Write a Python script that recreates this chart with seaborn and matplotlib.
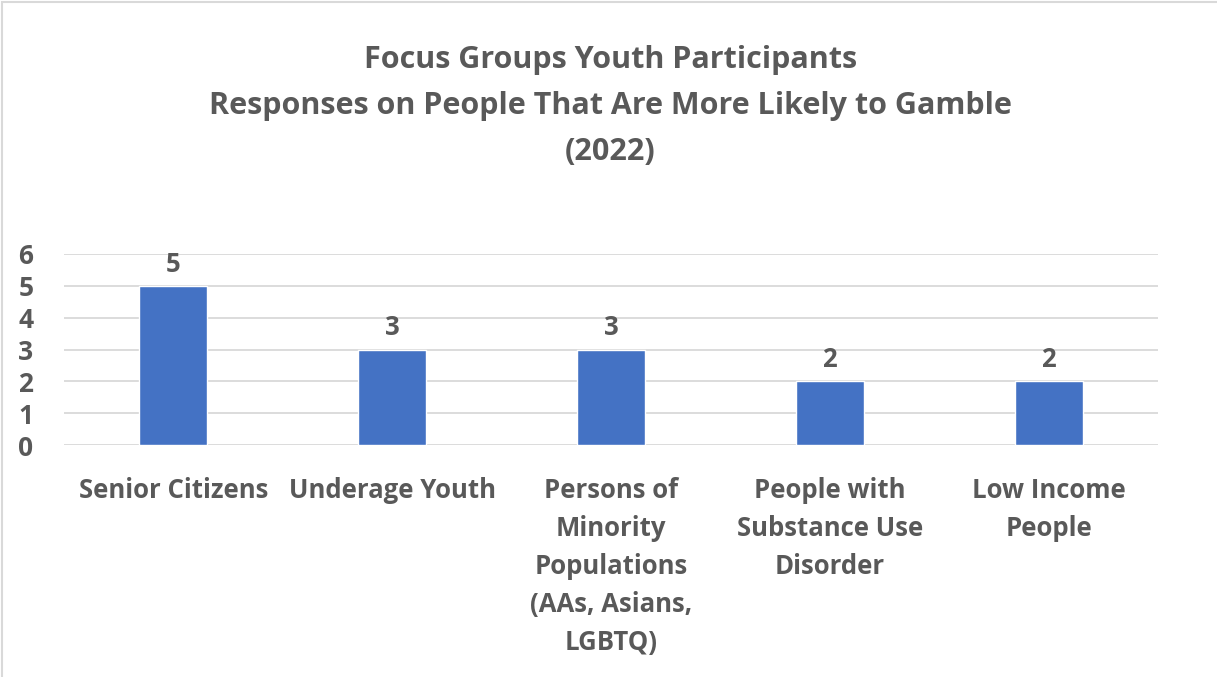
import matplotlib
matplotlib.use("Agg")
import matplotlib.pyplot as plt
import seaborn as sns
import pandas as pd
from matplotlib.patches import Rectangle

categories = [
    "Senior Citizens",
    "Underage Youth",
    "Persons of\nMinority\nPopulations\n(AAs, Asians,\nLGBTQ)",
    "People with\nSubstance Use\nDisorder",
    "Low Income\nPeople",
]
responses = [5, 3, 3, 2, 2]
y_ticks = [0, 1, 2, 3, 4, 5, 6]
title_lines = [
    "Focus Groups Youth Participants",
    "Responses on People That Are More Likely to Gamble",
    "(2022)",
]

TEXT = "#595959"
BAR = "#4472C4"
GRID = "#D9D9D9"

sns.set_theme(style="white")
plt.rcParams["font.family"] = ["Open Sans", "DejaVu Sans"]

W, H = 1217, 677
fig = plt.figure(figsize=(W / 100, H / 100), dpi=100)
ax = fig.add_axes([64 / W, 1 - 445 / H, (1158 - 64) / W, (445 - 254) / H])

df = pd.DataFrame({"category": categories, "responses": responses})
sns.barplot(data=df, x="category", y="responses", color=BAR, width=0.31,
            saturation=1, ax=ax, zorder=3)

ax.set_xlim(-0.5, len(categories) - 0.5)
ax.set_ylim(0, 6)
ax.set_yticks(y_ticks)
ax.set_yticklabels([str(t) for t in y_ticks], fontsize=19, fontweight="bold", color=TEXT)
ax.set_xticks(range(len(categories)))
ax.set_xticklabels(categories, fontsize=18.5, fontweight="bold", color=TEXT,
                   linespacing=1.53, va="top")
ax.tick_params(axis="x", length=0, pad=23)
ax.tick_params(axis="y", length=0, pad=22)
ax.set_xlabel("")
ax.set_ylabel("")

for y in y_ticks:
    ax.axhline(y, color=GRID, lw=1.3, zorder=1)
for s in ax.spines.values():
    s.set_visible(False)

for container in ax.containers:
    ax.bar_label(container, fmt="%d", padding=6, fontsize=18.5,
                 fontweight="bold", color=TEXT)

fig.text(0.5 * (1 + 4 / W), 1 - 106 / H, "\n".join(title_lines), ha="center", va="center",
         fontsize=22, fontweight="bold", color=TEXT, linespacing=1.7)

fig.patches.append(Rectangle((2 / W, -0.1), 1.2, 1.1 - 2.5 / H, transform=fig.transFigure,
                             fill=False, edgecolor="#D9D9D9", lw=1.5))

fig.savefig("out.png", dpi=100, facecolor="white")
